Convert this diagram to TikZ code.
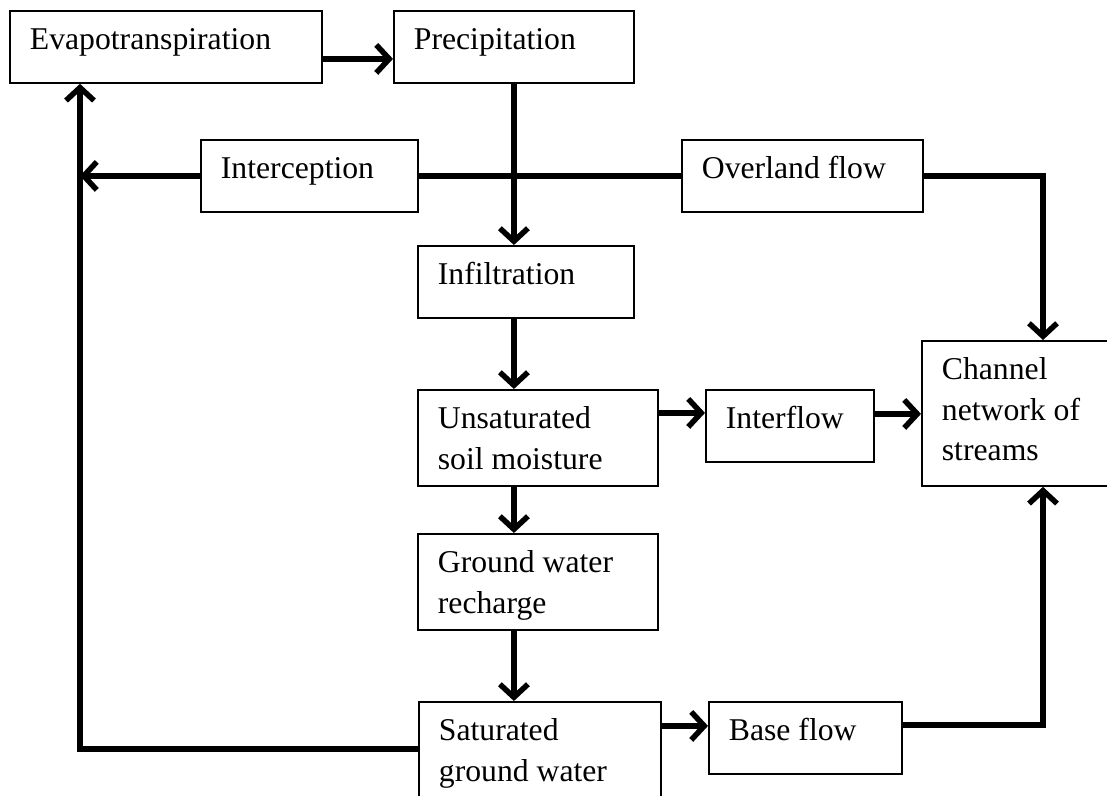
\documentclass[tikz,border=0pt]{standalone}
\usepackage{fontspec}
\setmainfont{Liberation Serif}
\usetikzlibrary{arrows.meta}
\newcommand{\bxtext}[3]{\parbox[c][#2][t]{#1}{\raggedright\leftskip=20pt\rule{0pt}{39pt}#3}}
\begin{document}
\begin{tikzpicture}[x=1pt,y=-1pt,
 box/.style={draw, line width=1.8pt, inner sep=0pt, anchor=north west, font=\fontsize{31.7}{40.5}\selectfont},
 flow/.style={line width=5.5pt, -{Straight Barb[length=13pt,width=28pt]}},
 link/.style={line width=5.5pt}]
\useasboundingbox (0,0) rectangle (1107,795);
\clip (0,0) rectangle (1107,795);
\node[box] (evap) at (9,10) {\bxtext{312pt}{72pt}{Evapotranspiration}};
\node[box] (prec) at (393,10) {\bxtext{240pt}{72pt}{Precipitation}};
\node[box] (interc) at (200,139) {\bxtext{217pt}{72pt}{Interception}};
\node[box] (overl) at (681,139) {\bxtext{241pt}{72pt}{Overland flow}};
\node[box] (infil) at (417,245) {\bxtext{216pt}{72pt}{Infiltration}};
\node[box] (unsat) at (417,389) {\bxtext{240pt}{96pt}{Unsaturated\\soil moisture}};
\node[box] (interf) at (705,389) {\bxtext{168pt}{72pt}{Interflow}};
\node[box] (chan) at (921,340) {\bxtext{200pt}{145pt}{Channel\\network of\\streams}};
\node[box] (rech) at (417,533) {\bxtext{240pt}{96pt}{Ground water\\recharge}};
\node[box] (satur) at (418,701) {\bxtext{242pt}{110pt}{Saturated\\ground water}};
\node[box] (base) at (708,701) {\bxtext{193pt}{72pt}{Base flow}};
\coordinate (lcol) at (80,0);
\coordinate (rcol) at (1043,0);
\draw[flow] ([yshift=-12pt]evap.east) -- ([yshift=-12pt]prec.west);
\draw[flow] (prec.south) -- (prec.south |- infil.north);
\draw[link] (interc.east) -- (overl.west);
\draw[flow] (interc.west) -- (interc.west -| lcol);
\draw[flow] (overl.east) -| (rcol |- chan.north);
\draw[flow] (prec.south |- infil.south) -- (prec.south |- unsat.north);
\draw[flow] ([yshift=25pt]unsat.east) -- ([yshift=25pt]unsat.east -| interf.west);
\draw[flow] ([yshift=12pt]interf.east) -- ([yshift=12pt]interf.east -| chan.west);
\draw[flow] (prec.south |- unsat.south) -- (prec.south |- rech.north);
\draw[flow] (prec.south |- rech.south) -- (prec.south |- satur.north);
\draw[flow] ([yshift=12pt]base.west -| satur.east) -- ([yshift=12pt]base.west);
\draw[flow] ([yshift=13pt]base.east) -| (rcol |- chan.south);
\draw[flow] ([yshift=8pt]satur.west) -| (evap.south -| lcol);
\end{tikzpicture}
\end{document}
